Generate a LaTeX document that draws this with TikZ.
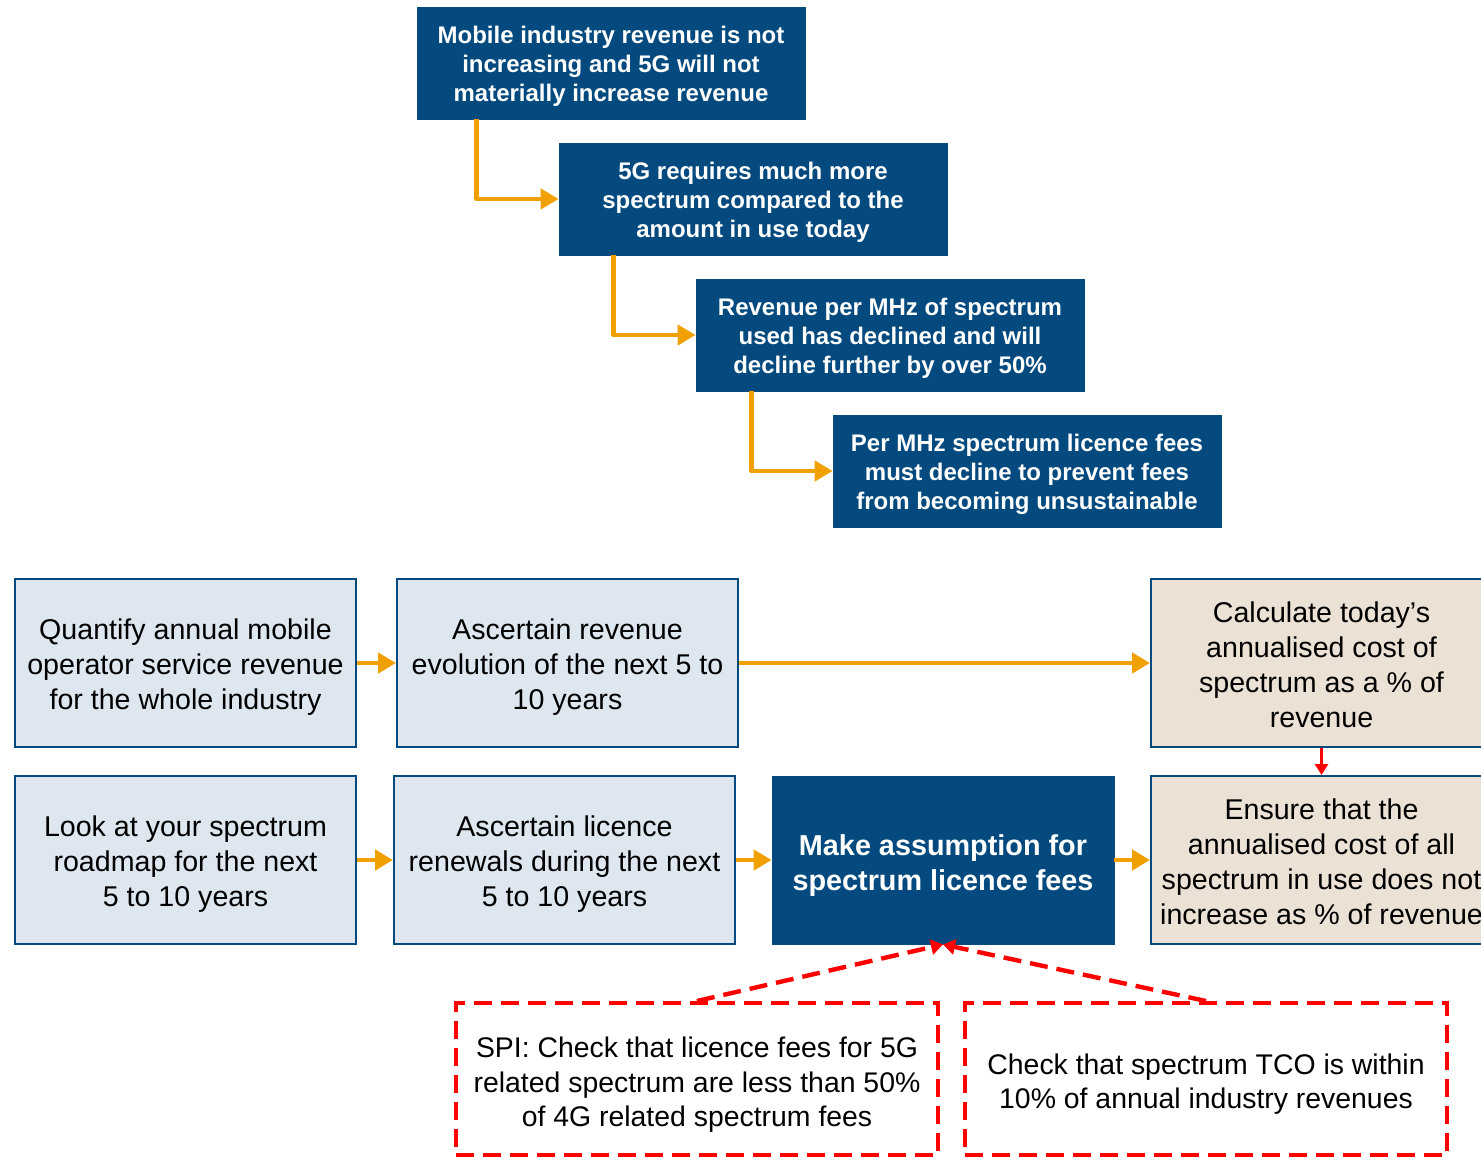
\documentclass[tikz,border=0pt]{standalone}
\usepackage{fontspec}
\setmainfont{Liberation Sans}
\usetikzlibrary{arrows.meta,calc}
\definecolor{navy}{HTML}{044A7E}
\definecolor{lightb}{HTML}{DEE7EF}
\definecolor{beige}{HTML}{EBE1D5}
\definecolor{orng}{HTML}{F0A000}
\definecolor{redd}{HTML}{FF0000}
\begin{document}
\begin{tikzpicture}[x=0.5pt,y=-0.5pt,
  darkbox/.style={fill=navy, draw=navy, inner sep=0pt, minimum width=194pt, minimum height=56pt},
  darktext/.style={text=white, inner sep=0pt, align=center, font=\fontsize{12}{14.5}\selectfont\bfseries},
  lightbox/.style={fill=lightb, draw=navy, line width=1pt, inner sep=0pt, minimum width=170.5pt, minimum height=84pt},
  beigebox/.style={lightbox, fill=beige},
  plaintext/.style={inner sep=0pt, align=center, font=\fontsize{14.3}{17.5}\selectfont},
  mainbox/.style={fill=navy, draw=navy, inner sep=0pt, minimum width=171pt, minimum height=84pt},
  maintext/.style={text=white, inner sep=0pt, align=center, font=\fontsize{14.4}{17.5}\selectfont\bfseries},
  checkbox/.style={draw=redd, line width=2pt, dash pattern=on 9pt off 4.5pt, inner sep=0pt,
    minimum width=241pt, minimum height=76pt},
  checktext/.style={inner sep=0pt, align=center, font=\fontsize{14.2}{17.2}\selectfont},
  flow/.style={draw=orng, line width=2.3pt, line join=round, -{Triangle[length=9pt,width=10pt]}},
  redflow/.style={draw=redd, line width=1.6pt, -{Triangle[length=5.5pt,width=6.5pt]}},
  reddash/.style={draw=redd, line width=2.2pt, dash pattern=on 9pt off 4.5pt, -{Triangle[length=6pt,width=7.5pt]}}
]
\path[use as bounding box] (0,0) rectangle (1481,1157);
\clip (0,0) rectangle (1481,1157);

% top cascade
\node[darkbox] (b1) at (611,63) {};
\node[darktext] (b1t) at ([yshift=-1.5pt]b1.center) {Mobile industry revenue is not\\increasing and 5G will not\\materially increase revenue};
\node[darkbox] (b2) at (753,199) {};
\node[darktext] (b2t) at ([yshift=-1.5pt]b2.center) {5G requires much more\\spectrum compared to the\\amount in use today};
\node[darkbox] (b3) at (890,335) {};
\node[darktext] (b3t) at ([yshift=-1.5pt]b3.center) {Revenue per MHz of spectrum\\used has declined and will\\decline further by over 50\%};
\node[darkbox] (b4) at (1027,471) {};
\node[darktext] (b4t) at ([yshift=-1.5pt]b4.center) {Per MHz spectrum licence fees\\must decline to prevent fees\\from becoming unsustainable};

\draw[flow] ($(b1.south west)+(60,0)$) |- (b2.west);
\draw[flow] ($(b2.south west)+(55,0)$) |- (b3.west);
\draw[flow] ($(b3.south west)+(56,0)$) |- (b4.west);

% middle rows
\node[lightbox] (q1) at (185.5,663) {};
\node[plaintext] (q1t) at ([yshift=-2pt]q1.center) {Quantify annual mobile\\operator service revenue\\for the whole industry};
\node[lightbox] (q2) at (567.5,663) {};
\node[plaintext] (q2t) at ([yshift=-2pt]q2.center) {Ascertain revenue\\evolution of the next 5 to\\10 years};
\node[beigebox] (c1) at (1321.5,663) {};
\node[plaintext] (c1t) at ([yshift=-1pt]c1.center) {Calculate today’s\\annualised cost of\\spectrum as a \% of\\revenue};

\node[lightbox] (l1) at (185.5,860) {};
\node[plaintext] (l1t) at ([yshift=-2pt]l1.center) {Look at your spectrum\\roadmap for the next\\5 to 10 years};
\node[lightbox] (l2) at (564.5,860) {};
\node[plaintext] (l2t) at ([yshift=-2pt]l2.center) {Ascertain licence\\renewals during the next\\5 to 10 years};
\node[mainbox] (m) at (943,860) {};
\node[maintext] (mt) at ([yshift=-3pt]m.center) {Make assumption for\\spectrum licence fees};
\node[beigebox] (e) at (1321.5,860) {};
\node[plaintext] (et) at ([yshift=-1pt]e.center) {Ensure that the\\annualised cost of all\\spectrum in use does not\\increase as \% of revenue};

\draw[flow] (q1.east) -- (q2.west);
\draw[flow] (q2.east) -- (c1.west);
\draw[flow] (l1.east) -- (l2.west);
\draw[flow] (l2.east) -- (m.west);
\draw[flow] (m.east) -- (e.west);
\draw[redflow] (c1.south) -- (e.north);

% checks
\node[checkbox] (d1) at (697,1079) {};
\node[checktext] (d1t) at ([yshift=-3pt]d1.center) {SPI: Check that licence fees for 5G\\related spectrum are less than 50\%\\of 4G related spectrum fees};
\node[checkbox] (d2) at (1206,1079) {};
\node[checktext] (d2t) at ([yshift=-2.5pt]d2.center) {Check that spectrum TCO is within\\10\% of annual industry revenues};

\draw[reddash] (d1.north) -- (m.south);
\draw[reddash] (d2.north) -- (m.south);
\end{tikzpicture}
\end{document}
